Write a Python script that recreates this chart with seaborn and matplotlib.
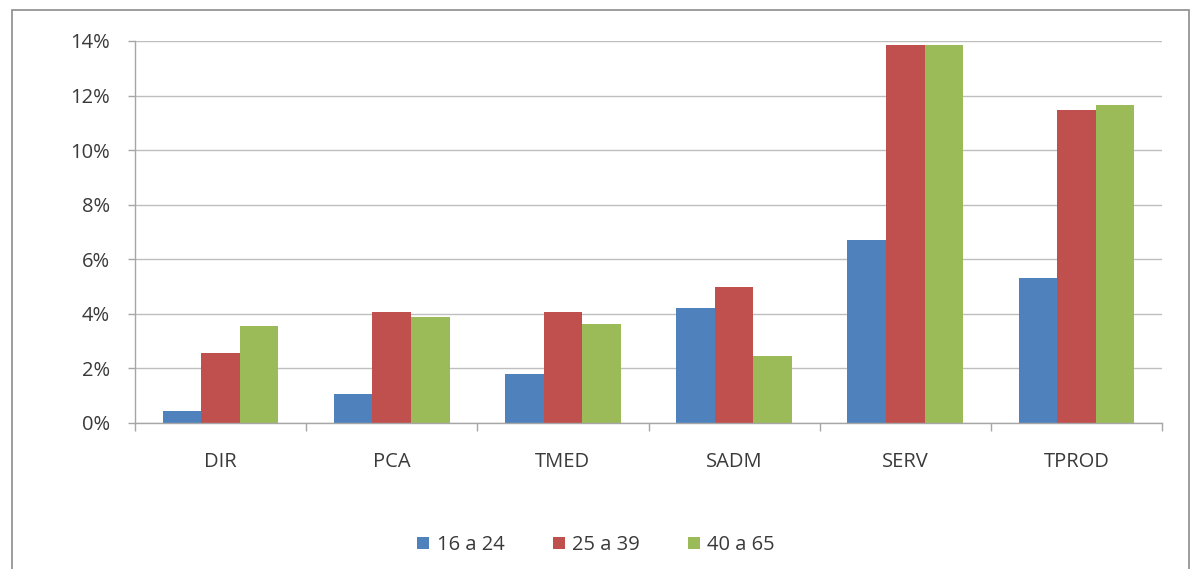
import matplotlib
matplotlib.use("Agg")
import matplotlib.pyplot as plt
from matplotlib.patches import Rectangle
from matplotlib.ticker import FuncFormatter, FixedLocator
import seaborn as sns
import pandas as pd

# data (percent)
categorias = ["DIR", "PCA", "TMED", "SADM", "SERV", "TPROD"]
grupos = ["16 a 24", "25 a 39", "40 a 65"]
val_16_24 = [0.45, 1.07, 1.80, 4.20, 6.70, 5.30]
val_25_39 = [2.57, 4.05, 4.05, 4.98, 13.86, 11.48]
val_40_65 = [3.56, 3.88, 3.63, 2.47, 13.86, 11.67]
cores = ["#4F81BD", "#C0504D", "#9BBB59"]

df = pd.DataFrame({
    "categoria": categorias * 3,
    "grupo": [grupos[0]] * 6 + [grupos[1]] * 6 + [grupos[2]] * 6,
    "valor": val_16_24 + val_25_39 + val_40_65,
})

sns.set_style("white")
plt.rcParams["font.family"] = ["Open Sans", "DejaVu Sans"]

fig = plt.figure(figsize=(11.92, 5.69), dpi=100)
ax = fig.add_axes([135 / 1192, 1 - 423 / 569, (1162 - 135) / 1192, (423 - 41) / 569])

sns.barplot(data=df, x="categoria", y="valor", hue="grupo", palette=cores,
            width=0.675, gap=0, saturation=1, linewidth=0, ax=ax, legend=True)

ax.set_ylim(0, 14)
ax.set_xlim(-0.5, 5.5)
ax.set_yticks(range(0, 15, 2))
ax.yaxis.set_major_formatter(FuncFormatter(lambda v, p: f"{int(v)}%"))
ax.yaxis.grid(True, color="#BEBEBE", linewidth=1)
ax.set_axisbelow(True)
ax.set_xlabel("")
ax.set_ylabel("")

for s in ["top", "right"]:
    ax.spines[s].set_visible(False)
for s in ["left", "bottom"]:
    ax.spines[s].set_color("#A6A6A6")
    ax.spines[s].set_linewidth(1)

ax.tick_params(axis="y", left=True, length=5, color="#A6A6A6", width=1,
               labelsize=14.5, labelcolor="#3A3A3A", pad=13)
ax.tick_params(axis="x", which="major", length=0, labelsize=14.5,
               labelcolor="#3A3A3A", pad=21)
ax.xaxis.set_minor_locator(FixedLocator([i - 0.5 for i in range(7)]))
ax.tick_params(axis="x", which="minor", bottom=True, length=6, color="#A6A6A6", width=1)

handles, labels = ax.get_legend_handles_labels()
ax.legend_.remove()
fig.legend(handles, labels, loc="center", bbox_to_anchor=(0.5, 1 - 545 / 569),
           ncol=3, frameon=False, fontsize=14.5, handlelength=0.6, handleheight=0.6,
           handletextpad=0.35, columnspacing=2.4, labelcolor="#3A3A3A")

# outer chart border
fig.patches.append(Rectangle((12 / 1192, -0.05), (1189 - 12) / 1192, 1.05 - 10 / 569,
                             transform=fig.transFigure, fill=False,
                             edgecolor="#8C8C8C", linewidth=1.2))

fig.savefig("out.png", dpi=100)
